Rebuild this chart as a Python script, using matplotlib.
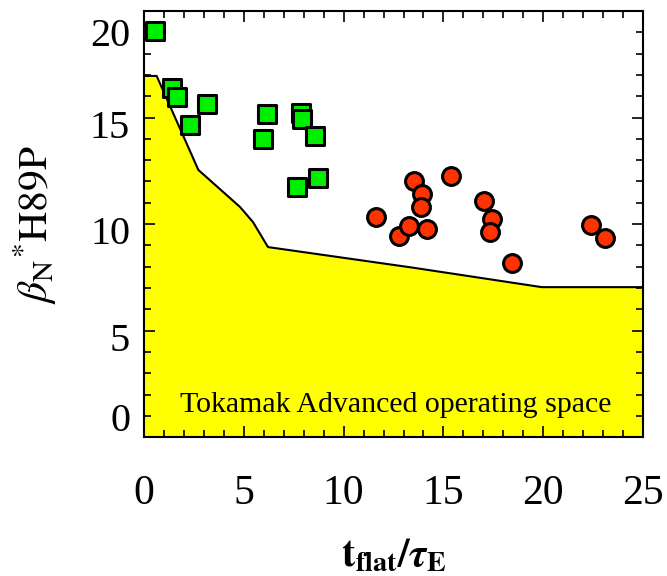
import matplotlib
matplotlib.use("Agg")
import matplotlib.pyplot as plt
from matplotlib.ticker import MultipleLocator
from matplotlib.transforms import ScaledTranslation

plt.rcParams['font.family'] = ['Liberation Serif', 'DejaVu Serif']
plt.rcParams['mathtext.fontset'] = 'stix'

# boundary of the operating space
edge_x = [0, 0.63, 2.72, 4.81, 5.46, 6.21, 13.5, 19.93, 25]
edge_y = [16.95, 16.95, 12.54, 10.80, 10.09, 8.92, 7.95, 7.04, 7.04]

# green squares
sq_x = [0.55, 1.39, 1.64, 3.17, 2.30, 6.15, 5.98, 7.85, 7.90, 8.57, 7.65, 8.73]
sq_y = [19.08, 16.37, 15.98, 15.63, 14.65, 15.15, 13.97, 15.20, 14.93, 14.13, 11.75, 12.17]

# red circles
ci_x = [11.62, 12.78, 13.29, 13.54, 13.91, 13.88, 14.16, 15.38, 17.03, 17.45, 17.33, 18.42, 22.38, 23.10]
ci_y = [10.31, 9.44, 9.91, 12.03, 11.40, 10.78, 9.75, 12.25, 11.09, 10.23, 9.64, 8.18, 9.95, 9.36]

fig = plt.figure(figsize=(6.67, 5.76), dpi=100)
ax = fig.add_axes([0.216, 0.241, 0.748, 0.740])

ax.fill_between(edge_x, 0, edge_y, color='#ffff00', lw=0, zorder=1)
ax.plot(edge_x, edge_y, color='black', lw=1.5, zorder=2)

ax.scatter(sq_x, sq_y, marker='s', s=185, c='#00ee00', edgecolors='black', linewidths=2.2, zorder=3)
ax.scatter(ci_x, ci_y, marker='o', s=165, c='#ff3300', edgecolors='black', linewidths=2.2, zorder=4)

ax.text(12.63, 1.17, 'Tokamak Advanced operating space', fontsize=21.5, ha='center', va='baseline', zorder=5)

ax.set_xlim(0, 25)
ax.set_ylim(0, 20)
ax.xaxis.set_major_locator(MultipleLocator(5))
ax.xaxis.set_minor_locator(MultipleLocator(1))
ax.yaxis.set_major_locator(MultipleLocator(5))
ax.yaxis.set_minor_locator(MultipleLocator(1))
ax.tick_params(which='both', direction='in', top=True, right=True, width=1.2)
ax.tick_params(which='major', length=8)
ax.tick_params(which='minor', length=5)
ax.tick_params(axis='x', labelsize=30, pad=27)
ax.tick_params(axis='y', labelsize=29, pad=10)
for sp in ax.spines.values():
    sp.set_linewidth(1.5)

ax.set_xlabel(r'$\mathbf{t_{flat}/}\boldsymbol{\tau}_{\mathbf{E}}$', fontsize=29, labelpad=18)
ax.set_ylabel(r'$\beta_{\mathrm{N}}{}^{*}\mathrm{H89P}$', fontsize=30, labelpad=22)

# the edge labels sit inward from their ticks in the original
fig.canvas.draw()
for lab in ax.get_yticklabels():
    txt = lab.get_text().replace('\u2212', '-')
    dy = -6
    if txt == '0':
        dy = 20
    elif txt == '20':
        dy = -21
    lab.set_transform(lab.get_transform() + ScaledTranslation(0, dy / 100, fig.dpi_scale_trans))

fig.savefig('out.png', dpi=100)
